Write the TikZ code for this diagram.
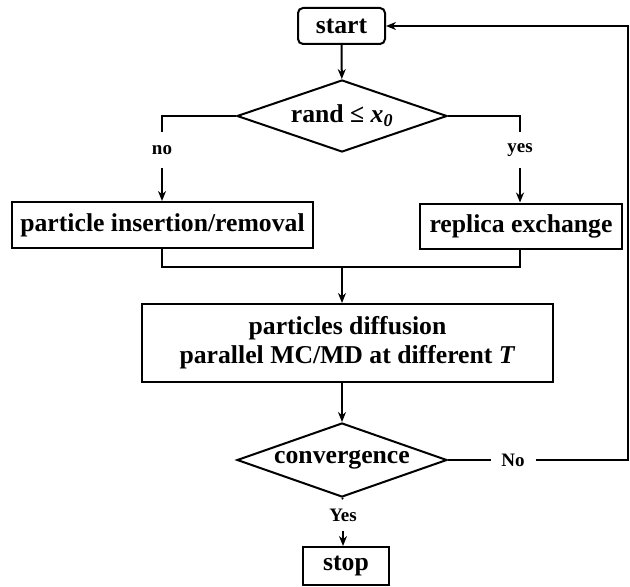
\documentclass[tikz,border=0pt]{standalone}
\usepackage{fontspec}
\setmainfont{Liberation Serif}
\usetikzlibrary{arrows.meta,shapes.geometric}

\begin{document}
\begin{tikzpicture}[x=1bp,y=-1bp,line width=2bp,
  >={Stealth[length=10bp,width=8bp]},
  every node/.style={font=\bfseries\fontsize{25.7bp}{29bp}\selectfont},
  block/.style={draw,rectangle,inner sep=0pt,align=center},
  decide/.style={draw,diamond,aspect=2.9,inner sep=0pt,
    minimum width=210bp,minimum height=72bp},
  lbl/.style={inner sep=0pt,font=\bfseries\fontsize{19bp}{21bp}\selectfont}]

\useasboundingbox (0,0) rectangle (630,587);

% ---------- nodes ----------
\node[block,rounded corners=5bp,minimum width=87bp,minimum height=36bp]
  (start) at (341.5,26) {start};
\node[decide] (rand) at (342,116) {rand ≤ \textit{x}\textsubscript{\textit{0}}};
\node[lbl,minimum height=34bp] (no) at (162,150) {no};
\node[lbl,minimum height=34bp] (yes) at (520,150) {yes};
\node[block,minimum width=301bp,minimum height=46bp]
  (insert) at (162.5,225) {particle insertion/removal};
\node[block,minimum width=202bp,minimum height=45bp]
  (replica) at (521,226) {replica exchange};
\coordinate (merge) at (342,267);
\node[block,minimum width=411bp,minimum height=78bp]
  (diffuse) at (347.5,343) {particles diffusion\\parallel MC/MD at different \textit{T}};
\node[decide,minimum height=74bp] (conv) at (342,460) {convergence};
\node[lbl,minimum width=43bp] (No) at (513,460) {No};
\node[lbl,minimum height=30bp] (Yes) at (343,515) {Yes};
\node[block,minimum width=86bp,minimum height=38bp]
  (stop) at (346,566) {stop};
\coordinate (loop) at (628,26);

% ---------- connectors ----------
\draw[->] (start) -- (rand);
\draw (rand.west) -| (no.north);
\draw[->] (no.south) -- (insert.north -| no.south);
\draw (rand.east) -| (yes.north);
\draw[->] (yes.south) -- (replica.north -| yes.south);

% merge below the two boxes
\draw (insert.south -| no) -- (merge -| no) -- (merge -| yes) -- (replica.south -| yes);
\draw[->] (merge) -- (diffuse.north -| merge);
\draw[->] (diffuse.south -| merge) -- (conv.north);

% loop back and exit
\draw (conv.east) -- (No.west);
\draw[->] (No.east) -| (loop) -- (start.east);
\draw (conv.south) -- (Yes.north);
\draw[->] (Yes.south) -- (stop.north -| Yes.south);

\end{tikzpicture}
\end{document}
